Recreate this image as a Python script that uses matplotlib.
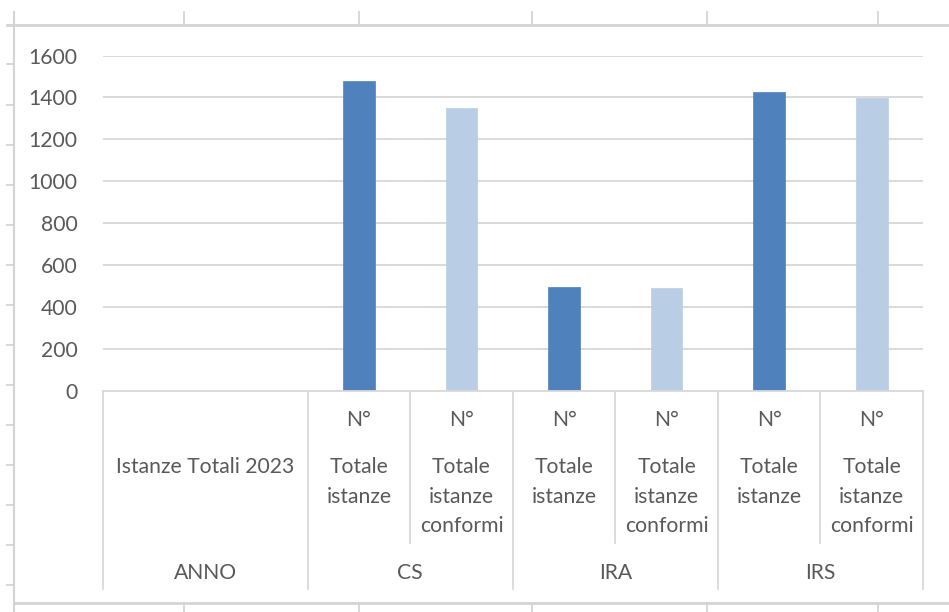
import matplotlib
matplotlib.use("Agg")
import matplotlib.pyplot as plt
from matplotlib.lines import Line2D
from matplotlib.transforms import blended_transform_factory

# ---- data ----
groups = ["ANNO", "CS", "IRA", "IRS"]
group_sizes = [2, 2, 2, 2]
sub_labels = ["", "", "N°\n\nTotale\nistanze", "N°\n\nTotale\nistanze\nconformi",
              "N°\n\nTotale\nistanze", "N°\n\nTotale\nistanze\nconformi",
              "N°\n\nTotale\nistanze", "N°\n\nTotale\nistanze\nconformi"]
anno_label = "Istanze Totali 2023"
values = [0, 0, 1480, 1350, 495, 488, 1425, 1395]
bar_colors = ["#4f81bd", "#b9cde5"] * 4
yticks = [0, 200, 400, 600, 800, 1000, 1200, 1400, 1600]

W, H = 949, 612
plt.rcParams["font.family"] = ["Lato", "DejaVu Sans"]
TXT = "#595959"
GRID = "#d9d9d9"
FS = 15.2

fig = plt.figure(figsize=(W / 100, H / 100), dpi=100)

def fx(x):
    return x / W

def fy(y):
    return 1 - y / H

ax_l, ax_r, ax_b, ax_t = 102.5, 923.0, 390.7, 55.5
ax = fig.add_axes([fx(ax_l), fy(ax_b), fx(ax_r - ax_l), (ax_b - ax_t) / H])

n = len(values)
xs = list(range(n))
ax.bar(xs, values, width=0.31, color=bar_colors, zorder=3, edgecolor=bar_colors, linewidth=0.5)
ax.set_xlim(-0.5, n - 0.5)
ax.set_ylim(0, 1600)
ax.set_yticks(yticks)
ax.set_yticklabels([str(t) for t in yticks], fontsize=FS, color=TXT)
ax.set_xticks([])
ax.tick_params(axis="y", length=0, pad=18.0)
for s in ax.spines.values():
    s.set_visible(False)
ax.yaxis.grid(True, color=GRID, linewidth=1.4, zorder=0)
ax.set_axisbelow(True)

# ---- multi-level category axis ----
tr = blended_transform_factory(ax.transData, fig.transFigure)
ytop = fy(ax_b)
ysub = fy(543)
ygrp = fy(589)
lc = "#d9d9d9"
fig.add_artist(Line2D([-0.5, n - 0.5], [ytop, ytop], transform=tr, color=lc, lw=1.3))
bounds = [-0.5]
for g in group_sizes:
    bounds.append(bounds[-1] + g)
for b in bounds:
    fig.add_artist(Line2D([b, b], [ytop, ygrp], transform=tr, color=lc, lw=1.3))
start = -0.5
for gi, g in enumerate(group_sizes):
    if gi > 0:
        for k in range(1, g):
            b = start + k
            fig.add_artist(Line2D([b, b], [ytop, ysub], transform=tr, color=lc, lw=1.3))
    start += g

line_y = {0: 420, 2: 467, 3: 497, 4: 526}
for i, lab in enumerate(sub_labels):
    if not lab:
        continue
    for li, line in enumerate(lab.split("\n")):
        if not line:
            continue
        fig.text(i, fy(line_y[li]), line, transform=tr, ha="center", va="center",
                 fontsize=FS, color=TXT)

fig.text(0.5, fy(467), anno_label, transform=tr, ha="center", va="center", fontsize=FS, color=TXT)

start = -0.5
for g, gs in zip(groups, group_sizes):
    fig.text(start + gs / 2, fy(573), g, transform=tr, ha="center", va="center",
             fontsize=FS, color=TXT)
    start += gs

# ---- spreadsheet / chart border decoration ----
dc = "#d4d4d4"
fig.add_artist(Line2D([fx(7), fx(W)], [fy(25), fy(25)], color=dc, lw=2.0))
fig.add_artist(Line2D([fx(14), fx(14)], [fy(12), fy(H)], color=dc, lw=1.5))
fig.add_artist(Line2D([fx(14), fx(W)], [fy(603), fy(603)], color=dc, lw=2.0))
for x in [184, 359, 532, 707, 878]:
    fig.add_artist(Line2D([fx(x), fx(x)], [fy(12), fy(25)], color=dc, lw=1.3))
    fig.add_artist(Line2D([fx(x), fx(x)], [fy(603), fy(H)], color=dc, lw=1.3))
for y in [64, 105, 145, 185, 225, 265, 305, 345, 385, 425, 465, 505, 545, 585]:
    fig.add_artist(Line2D([fx(7), fx(14)], [fy(y), fy(y)], color=dc, lw=1.3))

fig.savefig("out.png", dpi=100)
